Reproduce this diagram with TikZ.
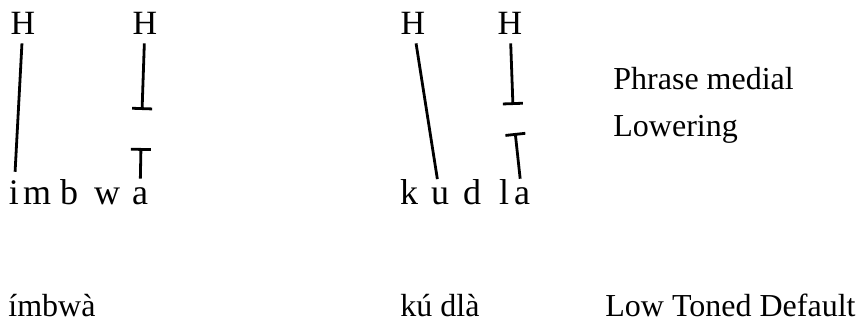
\documentclass[tikz,border=0pt]{standalone}
\usepackage{fontspec}
\setmainfont{Liberation Serif}
\usepackage{tikz}
\usetikzlibrary{arrows.meta}

\begin{document}
\begin{tikzpicture}[
  x=0.5pt, y=-0.5pt,
  tone/.style={font=\fontsize{17}{20}\selectfont, anchor=base, inner sep=3pt},
  seg/.style={font=\fontsize{18}{21}\selectfont, anchor=base, inner sep=3pt},
  lbl/.style={font=\fontsize{16}{19}\selectfont, anchor=base west, inner sep=0pt},
  assoc/.style={line width=1.4pt, shorten >=1pt, shorten <=1pt},
  cutup/.style={assoc, -{Bar[width=10pt, line width=1.4pt]}},
  cutdn/.style={assoc, {Bar[width=10pt, line width=1.4pt]}-}
]
  \useasboundingbox (0,0) rectangle (861,326);

  % tones
  \node[tone] (h1) at (23,35) {H};
  \node[tone] (h2) at (145,35) {H};
  \node[tone] (h3) at (413,35) {H};
  \node[tone] (h4) at (510,35) {H};

  % segments
  \node[seg] (i1) at (14,204) {i};
  \node[seg] (m1) at (37,204) {m};
  \node[seg] (b1) at (69,204) {b};
  \node[seg] (w1) at (107,204) {w};
  \node[seg] (a1) at (140,204) {a};

  \node[seg] (k2) at (409,204) {k};
  \node[seg] (u2) at (440,204) {u};
  \node[seg] (d2) at (472,204) {d};
  \node[seg] (l2) at (504,204) {l};
  \node[seg] (a2) at (522,204) {a};

  % cut points
  \coordinate (cut1a) at (142,112);
  \coordinate (cut1b) at (141,146);
  \coordinate (cut2a) at (513,107);
  \coordinate (cut2b) at (515,131);

  % labels
  \node[lbl] (phrase) at (613,90) {Phrase medial};
  \node[lbl] (lower) at (613,136) {Lowering};
  \node[lbl] (out1) at (8,316) {ímbwà};
  \node[lbl] (out2) at (400,316) {kú dlà};
  \node[lbl] (dflt) at (605,316) {Low Toned Default};

  % association lines
  \draw[assoc] (h1) -- (i1);
  \draw[cutup] (h2) -- (cut1a);
  \draw[cutdn] (cut1b) -- (a1);
  \draw[assoc] (h3) -- (u2);
  \draw[cutup] (h4) -- (cut2a);
  \draw[cutdn] (cut2b) -- (a2);
\end{tikzpicture}
\end{document}
